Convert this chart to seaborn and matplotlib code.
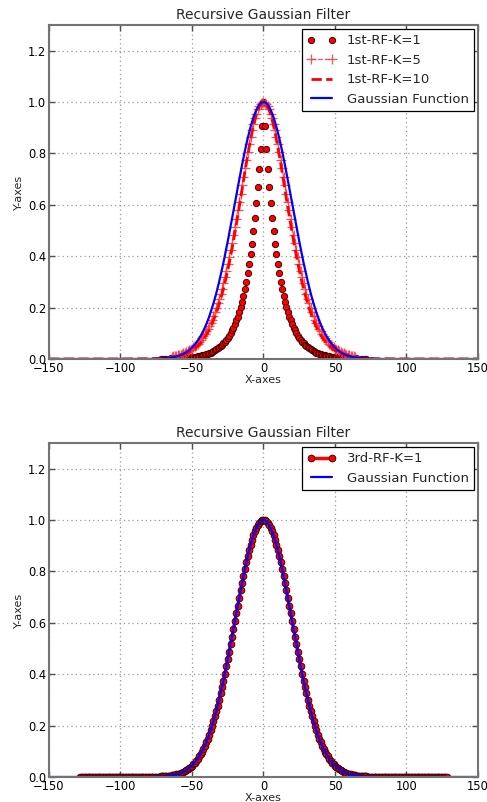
import numpy as np
import pandas as pd
import matplotlib
matplotlib.use("Agg")
import matplotlib.pyplot as plt
import seaborn as sns

# right half (x >= 0) of each curve -- all curves are symmetric about x = 0

# 1st order recursive filter, 1 pass
x_k1 = list(range(0, 73))
k1 = [1.000, 0.905, 0.819, 0.741, 0.670, 0.607, 0.549, 0.497, 0.449, 0.407,
      0.368, 0.333, 0.301, 0.273, 0.247, 0.223, 0.202, 0.183, 0.165, 0.150,
      0.135, 0.122, 0.111, 0.100, 0.091, 0.082, 0.074, 0.067, 0.061, 0.055,
      0.050, 0.045, 0.041, 0.037, 0.033, 0.030, 0.027, 0.025, 0.022, 0.020,
      0.018, 0.017, 0.015, 0.014, 0.012, 0.011, 0.010, 0.009, 0.008, 0.007,
      0.007, 0.006, 0.006, 0.005, 0.005, 0.004, 0.004, 0.003, 0.003, 0.003,
      0.002, 0.002, 0.002, 0.002, 0.002, 0.002, 0.001, 0.001, 0.001, 0.001,
      0.001, 0.001, 0.001]

# 1st order recursive filter, 5 passes
x_k5 = list(range(0, 65))
k5 = [1.000, 0.998, 0.993, 0.984, 0.971, 0.955, 0.936, 0.915, 0.891, 0.864,
      0.836, 0.806, 0.775, 0.743, 0.710, 0.677, 0.644, 0.611, 0.578, 0.546,
      0.514, 0.483, 0.453, 0.424, 0.396, 0.369, 0.344, 0.319, 0.296, 0.274,
      0.254, 0.234, 0.216, 0.198, 0.182, 0.167, 0.153, 0.140, 0.128, 0.117,
      0.107, 0.098, 0.089, 0.081, 0.073, 0.067, 0.060, 0.055, 0.049, 0.045,
      0.040, 0.036, 0.033, 0.030, 0.027, 0.024, 0.022, 0.019, 0.017, 0.016,
      0.014, 0.013, 0.011, 0.010, 0.009]

# 1st order recursive filter, 10 passes
x_k10 = list(range(0, 81, 2)) + [100, 150]
k10 = [1.000, 0.992, 0.969, 0.932, 0.883, 0.825, 0.761, 0.693, 0.624, 0.556,
       0.491, 0.429, 0.372, 0.320, 0.273, 0.232, 0.195, 0.164, 0.136, 0.113,
       0.093, 0.076, 0.062, 0.051, 0.041, 0.033, 0.027, 0.022, 0.017, 0.014,
       0.011, 0.009, 0.007, 0.005, 0.004, 0.003, 0.003, 0.002, 0.002, 0.001,
       0.001, 0.000, 0.000]

# reference gaussian
x_gauss = list(range(0, 71)) + [75, 80, 150]
gauss = [1.000, 0.999, 0.995, 0.989, 0.980, 0.969, 0.956, 0.941, 0.923, 0.904,
         0.882, 0.860, 0.835, 0.810, 0.783, 0.755, 0.726, 0.697, 0.667, 0.637,
         0.607, 0.576, 0.546, 0.516, 0.487, 0.458, 0.430, 0.402, 0.375, 0.350,
         0.325, 0.301, 0.278, 0.256, 0.236, 0.216, 0.198, 0.181, 0.164, 0.149,
         0.135, 0.122, 0.110, 0.099, 0.089, 0.080, 0.071, 0.063, 0.056, 0.050,
         0.044, 0.039, 0.034, 0.030, 0.026, 0.023, 0.020, 0.017, 0.015, 0.013,
         0.011, 0.010, 0.008, 0.007, 0.006, 0.005, 0.004, 0.004, 0.003, 0.003,
         0.002, 0.001, 0.000, 0.000]

# 3rd order recursive filter, 1 pass
x_rf3 = list(range(0, 129))
rf3 = [1.000, 0.999, 0.995, 0.989, 0.980, 0.969, 0.956, 0.941, 0.923, 0.904,
       0.882, 0.860, 0.835, 0.810, 0.783, 0.755, 0.726, 0.697, 0.667, 0.637,
       0.607, 0.576, 0.546, 0.516, 0.487, 0.458, 0.430, 0.402, 0.375, 0.350,
       0.325, 0.301, 0.278, 0.256, 0.236, 0.216, 0.198, 0.181, 0.164, 0.149,
       0.135, 0.122, 0.110, 0.099, 0.089, 0.080, 0.071, 0.063, 0.056, 0.050,
       0.044, 0.039, 0.034, 0.030, 0.026, 0.023, 0.020, 0.017, 0.015, 0.013,
       0.011, 0.010, 0.008, 0.007, 0.006, 0.005, 0.004, 0.004, 0.003, 0.003,
       0.002, 0.002, 0.002, 0.001, 0.001, 0.001, 0.001, 0.001, 0.001, 0.001,
       0.001, 0.001, 0.001, 0.001, 0.001, 0.000, 0.000, 0.000, 0.000, 0.000,
       0.000, 0.000, 0.000, 0.000, 0.000, 0.000, 0.000, 0.000, 0.000, 0.000,
       0.000, 0.000, 0.000, 0.000, 0.000, 0.000, 0.000, 0.000, 0.000, 0.000,
       0.000, 0.000, 0.000, 0.000, 0.000, 0.000, 0.000, 0.000, 0.000, 0.000,
       0.000, 0.000, 0.000, 0.000, 0.000, 0.000, 0.000, 0.000, 0.000]


def mirror(xs, ys):
    '''Build the full symmetric curve from its right half.'''
    full_x = [-x for x in xs[:0:-1]] + xs
    full_y = ys[:0:-1] + ys
    return pd.DataFrame({'x': full_x, 'y': full_y})


sns.set_style('whitegrid', {
    'axes.edgecolor': '0.45',
    'grid.color': '0.6',
    'grid.linestyle': (0, (1, 2.5)),
    'xtick.direction': 'in',
    'ytick.direction': 'in',
    'xtick.top': True,
    'ytick.right': True,
    'xtick.bottom': True,
    'ytick.left': True,
})
plt.rcParams['font.family'] = ['DejaVu Sans']
plt.rcParams['axes.linewidth'] = 1.5
plt.rcParams['grid.linewidth'] = 0.9

fig = plt.figure(figsize=(4.87, 8.02), dpi=100)
ax1 = fig.add_axes([0.1006, 0.5524, 0.8809, 0.4165])
ax2 = fig.add_axes([0.1006, 0.0312, 0.8809, 0.4165])

common = dict(sort=False, estimator=None)

# top panel: 1st order filter with 1, 5, 10 passes
sns.lineplot(data=mirror(x_k1, k1), x='x', y='y', ax=ax1, color='red', linestyle='',
             marker='o', markersize=4.5, markeredgecolor='#4a0000', markeredgewidth=0.7,
             label='1st-RF-K=1', **common)
sns.lineplot(data=mirror(x_k5, k5), x='x', y='y', ax=ax1, color='#ff3030', linestyle='--',
             linewidth=0.9, marker='+', markersize=7, markeredgecolor='#ff3030',
             markeredgewidth=0.9, alpha=0.85, label='1st-RF-K=5', **common)
sns.lineplot(data=mirror(x_k10, k10), x='x', y='y', ax=ax1, color='red', linestyle='--',
             linewidth=2, label='1st-RF-K=10', **common)
sns.lineplot(data=mirror(x_gauss, gauss), x='x', y='y', ax=ax1, color='blue',
             linewidth=1.6, label='Gaussian Function', **common)

# bottom panel: 3rd order filter, single pass
sns.lineplot(data=mirror(x_rf3, rf3), x='x', y='y', ax=ax2, color='red', linestyle='-',
             linewidth=2.5, marker='o', markersize=4.8, markeredgecolor='#4a0000',
             markeredgewidth=0.7, label='3rd-RF-K=1', **common)
sns.lineplot(data=mirror(x_gauss, gauss), x='x', y='y', ax=ax2, color='blue',
             linewidth=1.6, label='Gaussian Function', **common)

for ax in (ax1, ax2):
    ax.set_xlim(-150, 150)
    ax.set_ylim(0, 1.3)
    ax.set_xticks([-150, -100, -50, 0, 50, 100, 150])
    ax.set_yticks([0.0, 0.2, 0.4, 0.6, 0.8, 1.0, 1.2])
    ax.tick_params(labelsize=8.3, length=4, width=1, color='0.3', pad=2, labelcolor='black')
    ax.tick_params(axis='x', pad=2.5)
    ax.set_title('Recursive Gaussian Filter', fontsize=10, pad=4)
    ax.set_xlabel('X-axes', fontsize=8, labelpad=0)
    ax.set_ylabel('Y-axes', fontsize=8, labelpad=3)
    leg = ax.legend(loc='upper right', numpoints=2, fontsize=9.5, fancybox=False,
                    framealpha=1, edgecolor='black', borderaxespad=0.3,
                    handlelength=2.2)
    leg.get_frame().set_linewidth(0.9)

fig.savefig('out.png', dpi=100)
